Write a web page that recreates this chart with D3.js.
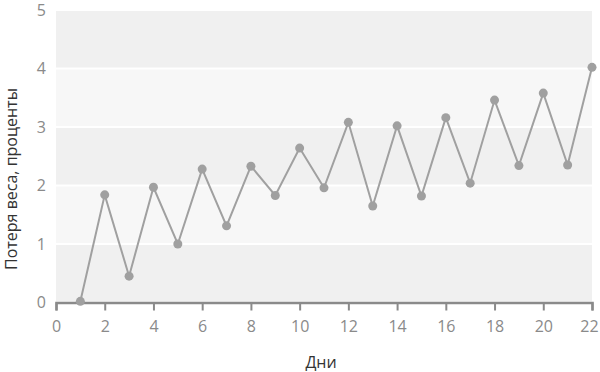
<!DOCTYPE html>
<html>
<head>
<meta charset="utf-8">
<script src="https://cdn.jsdelivr.net/npm/d3@7"></script>
<style>
  body { margin: 0; background: #fff; }
  text { font-family: "Open Sans", sans-serif; }
</style>
</head>
<body>
<svg id="chart" width="600" height="372"></svg>
<script>
var days = d3.range(1, 23);
var weightLoss = [0.02, 1.84, 0.45, 1.97, 1.0, 2.28, 1.31, 2.33, 1.83, 2.64, 1.96,
                  3.08, 1.65, 3.02, 1.82, 3.16, 2.04, 3.46, 2.34, 3.58, 2.35, 4.02];
var xTicks = [0, 2, 4, 6, 8, 10, 12, 14, 16, 18, 20, 22];
var yTicks = [0, 1, 2, 3, 4, 5];

var margin = {left: 56, right: 8, top: 10, bottom: 69.5};
var width = 600 - margin.left - margin.right;
var height = 372 - margin.top - margin.bottom;

var svg = d3.select("#chart");
var g = svg.append("g").attr("transform", "translate(" + margin.left + "," + margin.top + ")");

var x = d3.scaleLinear().domain([0, 22]).range([0, width]);
var y = d3.scaleLinear().domain([0, 5]).range([height, 0]);

// alternating bands
g.selectAll(".band")
  .data(yTicks.slice(0, -1))
  .enter().append("rect")
  .attr("x", 0)
  .attr("width", width)
  .attr("y", function(d) { return y(d + 1) + 1; })
  .attr("height", function(d) { return y(d) - y(d + 1) - 2; })
  .attr("fill", function(d) { return d % 2 == 0 ? "#f0f0f0" : "#f7f7f7"; });

// x axis
var xAxis = g.append("g")
  .attr("transform", "translate(0," + height + ")")
  .call(d3.axisBottom(x).tickValues(xTicks).tickSize(8).tickPadding(10));
xAxis.select(".domain").attr("stroke", "#8a8a8a").attr("stroke-width", 2.5);
xAxis.selectAll(".tick line").attr("stroke", "#8a8a8a").attr("stroke-width", 2);
xAxis.selectAll("text").attr("fill", "#8a8a8a").style("font-size", "16px");
// last label sits at the very edge, keep it inside the window
xAxis.selectAll(".tick text").filter(function(d) { return d == 22; }).attr("dx", "-3");

// y labels
g.selectAll(".ylab")
  .data(yTicks)
  .enter().append("text")
  .attr("x", -10)
  .attr("y", function(d) { return y(d); })
  .attr("dy", "0.35em")
  .attr("text-anchor", "end")
  .attr("fill", "#8a8a8a")
  .style("font-size", "16px")
  .text(function(d) { return d; });

// line + points
var line = d3.line()
  .x(function(d, i) { return x(days[i]); })
  .y(function(d) { return y(d); });

g.append("path")
  .datum(weightLoss)
  .attr("d", line)
  .attr("fill", "none")
  .attr("stroke", "#a0a0a0")
  .attr("stroke-width", 2);

g.selectAll(".pt")
  .data(weightLoss)
  .enter().append("circle")
  .attr("cx", function(d, i) { return x(days[i]); })
  .attr("cy", function(d) { return y(d); })
  .attr("r", 4.5)
  .attr("fill", "#a0a0a0");

// titles
svg.append("text")
  .attr("x", 321)
  .attr("y", 362)
  .attr("dy", "0.35em")
  .attr("text-anchor", "middle")
  .attr("fill", "#333")
  .style("font-size", "16px")
  .text("Дни");

svg.append("text")
  .attr("transform", "translate(11,179) rotate(-90)")
  .attr("dy", "0.35em")
  .attr("text-anchor", "middle")
  .attr("fill", "#333")
  .style("font-size", "16px")
  .text("Потеря веса, проценты");
</script>
</body>
</html>
